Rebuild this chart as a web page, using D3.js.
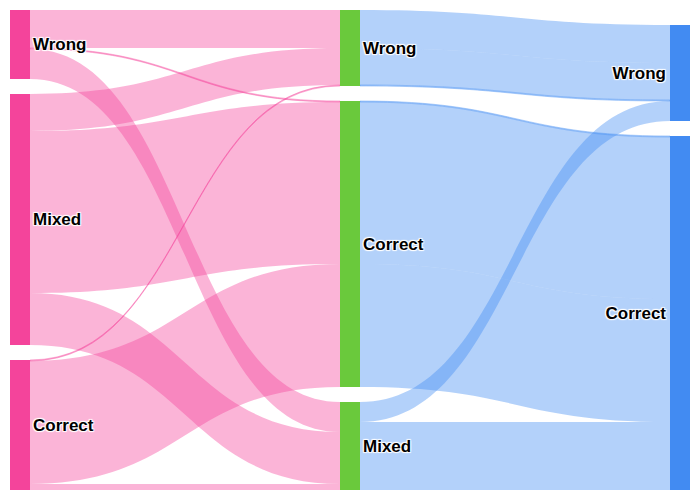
<!DOCTYPE html>
<html>
<head>
<meta charset="utf-8">
<script src="https://cdn.jsdelivr.net/npm/d3@7"></script>
<style>
  html, body { margin: 0; padding: 0; background: #fff; }
  svg { display: block; }
  .label {
    font-family: "Liberation Sans", Arial, Helvetica, sans-serif;
    font-weight: bold;
    font-size: 17px;
    fill: #000;
    text-shadow: 1px 1px 1px #fff, 1px -1px 1px #fff, -1px 1px 1px #fff, -1px -1px 1px #fff;
  }
</style>
</head>
<body>
<svg id="chart" width="700" height="500"></svg>
<script>
// ---- Data ----
const stage1 = ["Wrong", "Mixed", "Correct"];
const stage2 = ["Wrong", "Correct", "Mixed"];
const stage3 = ["Wrong", "Correct"];
// stage1 -> stage2 flows (rows: stage1 source, columns: stage2 target)
const flows12 = [
  [38, 1, 30],
  [37, 162, 52],
  [1, 123, 6]
];
// stage2 -> stage3 flows, listed per path (origin = stage1 node)
const link23Source = [0, 0, 0, 1, 1, 1, 2, 2, 2, 2];
const link23Target = [0, 0, 0, 1, 1, 1, 0, 1, 1, 1];
const link23Origin = [0, 1, 2, 0, 1, 2, 1, 0, 1, 2];
const link23Value  = [38, 37, 1, 1, 162, 123, 20, 30, 32, 6];

const nodeColors = ["#f4449b", "#6ac93c", "#428bf2"];
const linkColors = ["rgba(244,68,155,0.4)", "rgba(66,139,242,0.4)"];

// ---- Layout ----
const W = 700, H = 500;
const margin = { top: 10, right: 10, bottom: 10, left: 10 };
const nodeWidth = 20, nodePad = 15;
const stages = [stage1, stage2, stage3];

// link list
const linkList = [];
flows12.forEach((row, i) => row.forEach((v, j) => {
  if (v > 0) linkList.push({ stage: 0, s: i, t: j, value: v });
}));
link23Value.forEach((v, k) => {
  if (v > 0) linkList.push({ stage: 1, s: link23Source[k], t: link23Target[k], origin: link23Origin[k], value: v });
});

// nodes
const columns = stages.map((names, c) => names.map((name, i) => {
  const outV = d3.sum(linkList.filter(l => l.stage === c && l.s === i), l => l.value);
  const inV = d3.sum(linkList.filter(l => l.stage === c - 1 && l.t === i), l => l.value);
  return { name, col: c, index: i, value: Math.max(inV, outV) };
}));

const x = d3.scaleLinear()
  .domain([0, stages.length - 1])
  .range([margin.left, W - margin.right - nodeWidth]);

const innerH = H - margin.top - margin.bottom;
const ky = d3.min(columns, col => (innerH - (col.length - 1) * nodePad) / d3.sum(col, d => d.value));
const yv = d3.scaleLinear().domain([0, 1]).range([0, ky]);

columns.forEach(col => {
  const total = d3.sum(col, d => yv(d.value)) + (col.length - 1) * nodePad;
  let y = H - margin.bottom - total; // bottom-aligned columns
  col.forEach(n => {
    n.x0 = x(n.col); n.x1 = n.x0 + nodeWidth;
    n.y0 = y; n.y1 = y + yv(n.value);
    n.outY = n.y0; n.inY = n.y0;
    y = n.y1 + nodePad;
  });
});

const links = linkList.map(l => ({
  stage: l.stage,
  source: columns[l.stage][l.s],
  target: columns[l.stage + 1][l.t],
  value: l.value
}));

// offsets: at source sorted by target y, at target sorted by source y (stable)
columns.forEach(col => col.forEach(n => {
  links.filter(l => l.source === n)
    .sort((a, b) => a.target.index - b.target.index)
    .forEach(l => { l.sy = n.outY; n.outY += yv(l.value); });
  links.filter(l => l.target === n)
    .sort((a, b) => a.source.index - b.source.index)
    .forEach(l => { l.ty = n.inY; n.inY += yv(l.value); });
}));

function linkPath(l) {
  const x0 = l.source.x1, x1 = l.target.x0, xm = (x0 + x1) / 2;
  const w = yv(l.value);
  const p = d3.path();
  p.moveTo(x0, l.sy);
  p.bezierCurveTo(xm, l.sy, xm, l.ty, x1, l.ty);
  p.lineTo(x1, l.ty + w);
  p.bezierCurveTo(xm, l.ty + w, xm, l.sy + w, x0, l.sy + w);
  p.closePath();
  return p.toString();
}

// ---- Draw ----
const svg = d3.select("#chart");

svg.append("g").attr("class", "links")
  .selectAll("path").data(links).join("path")
  .attr("d", linkPath)
  .attr("fill", d => linkColors[d.stage])
  .attr("stroke", d => yv(d.value) < 2 ? linkColors[d.stage] : "none")
  .attr("stroke-width", 1);

const allNodes = columns.flat();
svg.append("g").attr("class", "nodes")
  .selectAll("rect").data(allNodes).join("rect")
  .attr("x", d => d.x0).attr("y", d => d.y0)
  .attr("width", d => d.x1 - d.x0).attr("height", d => d.y1 - d.y0)
  .attr("fill", d => nodeColors[d.col]);

const lastCol = stages.length - 1;
svg.append("g").attr("class", "labels")
  .selectAll("text").data(allNodes).join("text")
  .attr("class", "label")
  .attr("x", d => d.col === lastCol ? d.x0 - 4 : d.x1 + 3)
  .attr("y", d => (d.y0 + d.y1) / 2)
  .attr("dy", "0.35em")
  .attr("text-anchor", d => d.col === lastCol ? "end" : "start")
  .text(d => d.name);
</script>
</body>
</html>
